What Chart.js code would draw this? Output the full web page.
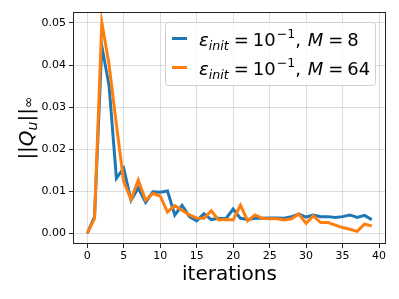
<!DOCTYPE html>
<html lang="en">
<head>
  <meta charset="utf-8">
  <script src="https://cdn.jsdelivr.net/npm/chart.js@4.4.1/dist/chart.umd.min.js"></script>
  <title>Q_u norm vs iterations</title>
  <style>
    html, body { margin: 0; padding: 0; background: #fff; }
    canvas { display: block; }
  </style>
</head>
<body>
  <canvas id="myChart" width="399" height="299"></canvas>
  <script>
    // data
    var iterations = [0, 1, 2, 3, 4, 5, 6, 7, 8, 9, 10, 11, 12, 13, 14, 15, 16, 17, 18, 19,
      20, 21, 22, 23, 24, 25, 26, 27, 28, 29, 30, 31, 32, 33, 34, 35, 36, 37, 38, 39];
    var m8_values = [0.0000, 0.0040, 0.0445, 0.0350, 0.0131, 0.0155, 0.0079, 0.0108, 0.0074, 0.0099,
      0.0098, 0.0101, 0.0044, 0.0067, 0.0040, 0.0030, 0.0047, 0.0033, 0.0036, 0.0035,
      0.0058, 0.0036, 0.0033, 0.0036, 0.0036, 0.0037, 0.0037, 0.0036, 0.0040, 0.0046,
      0.0039, 0.0044, 0.0040, 0.0040, 0.0038, 0.0040, 0.0044, 0.0038, 0.0043, 0.0033];
    var m64_values = [0.0000, 0.0036, 0.0501, 0.0400, 0.0258, 0.0123, 0.0081, 0.0127, 0.0079, 0.0095,
      0.0089, 0.0051, 0.0066, 0.0055, 0.0044, 0.0037, 0.0036, 0.0054, 0.0032, 0.0033,
      0.0032, 0.0067, 0.0030, 0.0044, 0.0036, 0.0035, 0.0035, 0.0032, 0.0035, 0.0046,
      0.0024, 0.0042, 0.0026, 0.0026, 0.0020, 0.0014, 0.0010, 0.0005, 0.0022, 0.0018];
    var m_labels = [8, 64];
    var x_ticks = [0, 5, 10, 15, 20, 25, 30, 35, 40];
    var y_ticks = [0.00, 0.01, 0.02, 0.03, 0.04, 0.05];

    var FONT = 'DejaVu Sans';
    var blue = '#1f77b4';
    var orange = '#ff7f0e';

    function toPoints(vals) {
      return vals.map(function(v, i) { return { x: iterations[i], y: v }; });
    }

    // draws a row of text pieces (mathtext-ish)
    function drawRuns(ctx, x, baseline, runs) {
      runs.forEach(function(r) {
        ctx.font = (r.it ? 'italic ' : '') + r.size + 'px "' + FONT + '"';
        ctx.fillText(r.t, x, baseline + (r.dy || 0));
        x += ctx.measureText(r.t).width + (r.gap || 0);
      });
      return x;
    }

    var extras = {
      id: 'extras',
      afterDraw: function(chart) {
        var ctx = chart.ctx;
        var a = chart.chartArea;
        ctx.save();

        // frame
        ctx.strokeStyle = '#222';
        ctx.lineWidth = 1;
        ctx.strokeRect(Math.round(a.left) + 0.5, Math.round(a.top) + 0.5,
          Math.round(a.right - a.left) - 1, Math.round(a.bottom - a.top) - 1);

        ctx.fillStyle = '#000';
        ctx.textAlign = 'left';
        ctx.textBaseline = 'alphabetic';

        // x title
        ctx.font = '20px "' + FONT + '"';
        ctx.textAlign = 'center';
        ctx.fillText('iterations', (a.left + a.right) / 2, 280);

        // y title ||Q_u||_inf
        ctx.save();
        ctx.translate(33, (a.top + a.bottom) / 2);
        ctx.rotate(-Math.PI / 2);
        ctx.textAlign = 'left';
        var yRuns = [
          { t: '||', size: 20 },
          { t: 'Q', size: 20, it: true },
          { t: 'u', size: 14, it: true, dy: 4 },
          { t: '||', size: 20 },
          { t: '∞', size: 14, dy: 0 }
        ];
        var w = 0;
        yRuns.forEach(function(r) {
          ctx.font = (r.it ? 'italic ' : '') + r.size + 'px "' + FONT + '"';
          w += ctx.measureText(r.t).width;
        });
        drawRuns(ctx, -w / 2, 0, yRuns);
        ctx.restore();

        // legend box
        var lx = 165, ly = 22, lw = 210, lh = 63;
        ctx.fillStyle = 'rgba(255,255,255,0.8)';
        ctx.strokeStyle = '#d0d0d0';
        ctx.lineWidth = 1;
        ctx.beginPath();
        ctx.roundRect(lx + 0.5, ly + 0.5, lw, lh, 3);
        ctx.fill();
        ctx.stroke();

        var colors = [blue, orange];
        var rowY = [38.5, 67.5];
        m_labels.forEach(function(m, i) {
          ctx.strokeStyle = colors[i];
          ctx.lineWidth = 3;
          ctx.beginPath();
          ctx.moveTo(172, rowY[i]);
          ctx.lineTo(187, rowY[i]);
          ctx.stroke();
          ctx.fillStyle = '#000';
          ctx.textAlign = 'left';
          drawRuns(ctx, 199, rowY[i] + 7, [
            { t: 'ε', size: 18, it: true },
            { t: 'init', size: 12.6, it: true, dy: 4, gap: 5 },
            { t: '=', size: 18, gap: 4 },
            { t: '10', size: 18, gap: 1 },
            { t: '−1', size: 12.6, dy: -8 },
            { t: ', ', size: 18, gap: 1 },
            { t: 'M', size: 18, it: true, gap: 5 },
            { t: '=', size: 18, gap: 4 },
            { t: String(m), size: 18 }
          ]);
        });

        ctx.restore();
      }
    };

    const data = {
      datasets: [{
        label: 'M = ' + m_labels[0],
        data: toPoints(m8_values),
        borderColor: blue,
        backgroundColor: blue,
        borderWidth: 3,
        pointRadius: 0,
        order: 1
      }, {
        label: 'M = ' + m_labels[1],
        data: toPoints(m64_values),
        borderColor: orange,
        backgroundColor: orange,
        borderWidth: 3,
        pointRadius: 0,
        order: 0
      }]
    };

    const config = {
      type: 'line',
      data: data,
      plugins: [extras],
      options: {
        responsive: false,
        animation: false,
        layout: { padding: { left: 0, top: 12, right: 13, bottom: 0 } },
        plugins: { legend: { display: false }, tooltip: { enabled: false } },
        scales: {
          x: {
            type: 'linear',
            min: -1.95,
            max: 40.95,
            afterBuildTicks: function(axis) {
              axis.ticks = x_ticks.map(function(v) { return { value: v }; });
            },
            afterFit: function(axis) { axis.height = 55; },
            grid: {
              color: 'rgba(0,0,0,0.13)',
              borderDash: [2, 1],
              tickColor: '#222',
              tickBorderDash: [],
              tickLength: 4,
              lineWidth: 1
            },
            border: { display: false },
            ticks: {
              color: '#000',
              padding: 2,
              maxRotation: 0,
              font: { family: FONT, size: 11 },
              callback: function(v) { return String(v); }
            }
          },
          y: {
            type: 'linear',
            min: -0.0025,
            max: 0.0526,
            afterBuildTicks: function(axis) {
              axis.ticks = y_ticks.map(function(v) { return { value: v }; });
            },
            afterFit: function(axis) { axis.width = 73; },
            grid: {
              color: 'rgba(0,0,0,0.13)',
              borderDash: [2, 1],
              tickColor: '#222',
              tickBorderDash: [],
              tickLength: 4,
              lineWidth: 1
            },
            border: { display: false },
            ticks: {
              color: '#000',
              padding: 3,
              font: { family: FONT, size: 11 },
              callback: function(v) { return v.toFixed(2); }
            }
          }
        }
      }
    };

    var myChart = new Chart(document.getElementById('myChart'), config);
  </script>
</body>
</html>
